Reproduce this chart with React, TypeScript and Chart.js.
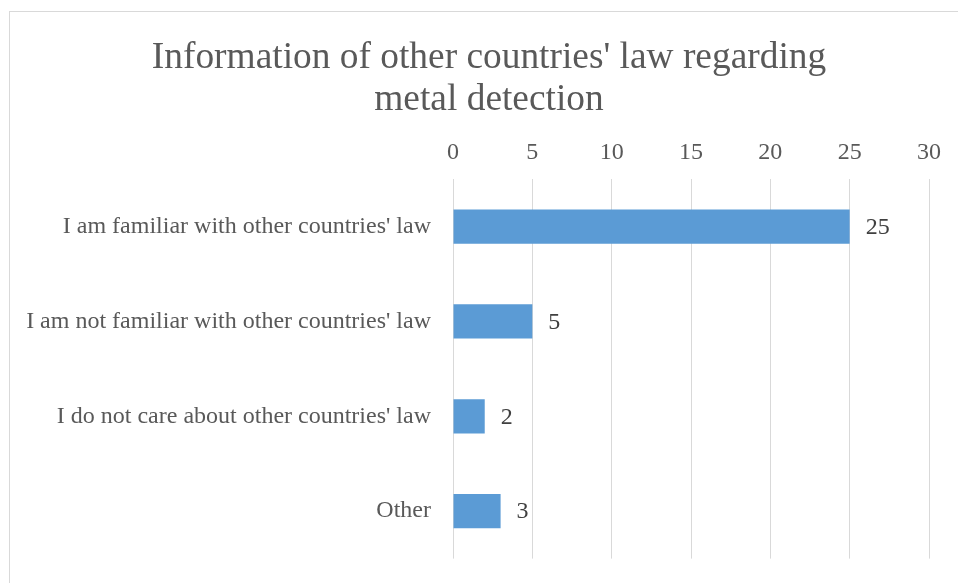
import React, { useEffect, useRef } from "react";
import { Chart, registerables } from "chart.js";

Chart.register(...registerables);

const categories = [
  "I am familiar with other countries' law",
  "I am not familiar with other countries' law",
  "I do not care about other countries' law",
  "Other",
];
const values = [25, 5, 2, 3];
const titleLines = ["Information of other countries' law regarding", "metal detection"];
const xMin = 0;
const xMax = 30;
const xStep = 5;

const FONT = "'Liberation Serif', 'Times New Roman', serif";

const dataLabelPlugin = {
  id: "dataLabels",
  afterDatasetsDraw(chart: any) {
    const ctx = chart.ctx;
    const meta = chart.getDatasetMeta(0);
    ctx.save();
    ctx.font = `24px ${FONT}`;
    ctx.fillStyle = "#404040";
    ctx.textAlign = "left";
    ctx.textBaseline = "middle";
    meta.data.forEach((bar: any, i: number) => {
      ctx.fillText(String(values[i]), bar.x + 16, bar.y + 1);
    });
    ctx.restore();
  },
};

export default function App() {
  const ref = useRef<HTMLCanvasElement | null>(null);
  useEffect(() => {
    document.body.style.margin = "0";
    document.body.style.overflow = "hidden";
    const canvas = ref.current!;
    const chart = new Chart(canvas, {
      type: "bar",
      data: {
        labels: categories,
        datasets: [
          {
            data: values,
            backgroundColor: "#5B9BD5",
            borderWidth: 0,
            barPercentage: 0.36,
            categoryPercentage: 1,
          },
        ],
      },
      options: {
        indexAxis: "y",
        responsive: false,
        animation: false,
        devicePixelRatio: 1,
        layout: { padding: { left: 0, right: 0, top: 0, bottom: 13 } },
        plugins: {
          legend: { display: false },
          tooltip: { enabled: false },
          title: {
            display: true,
            text: titleLines,
            color: "#595959",
            font: { family: FONT, size: 37.4, weight: "normal", lineHeight: 1.125 },
            padding: { top: 25, bottom: 0 },
          },
        },
        scales: {
          x: {
            position: "top",
            min: xMin,
            max: xMax,
            ticks: {
              stepSize: xStep,
              color: "#595959",
              font: { family: FONT, size: 24 },
              padding: 12,
            },
            grid: { color: "#d9d9d9", lineWidth: 1, drawTicks: false },
            border: { display: false },
            afterFit(scale: any) {
              scale.height = 58;
              scale.paddingRight = 39;
            },
          },
          y: {
            ticks: {
              color: "#595959",
              font: { family: FONT, size: 24 },
              padding: 22,
            },
            grid: { display: false, drawTicks: false },
            border: { display: false },
            afterFit(scale: any) {
              scale.width = 443;
            },
          },
        },
      },
      plugins: [dataLabelPlugin],
    } as any);
    return () => chart.destroy();
  }, []);

  return (
    <div
      style={{
        position: "absolute",
        left: 9,
        top: 11,
        width: 970,
        height: 600,
        border: "1px solid #d9d9d9",
        background: "#fff",
      }}
    >
      <canvas ref={ref} width={958} height={583} style={{ display: "block", width: 958, height: 583 }} />
    </div>
  );
}
